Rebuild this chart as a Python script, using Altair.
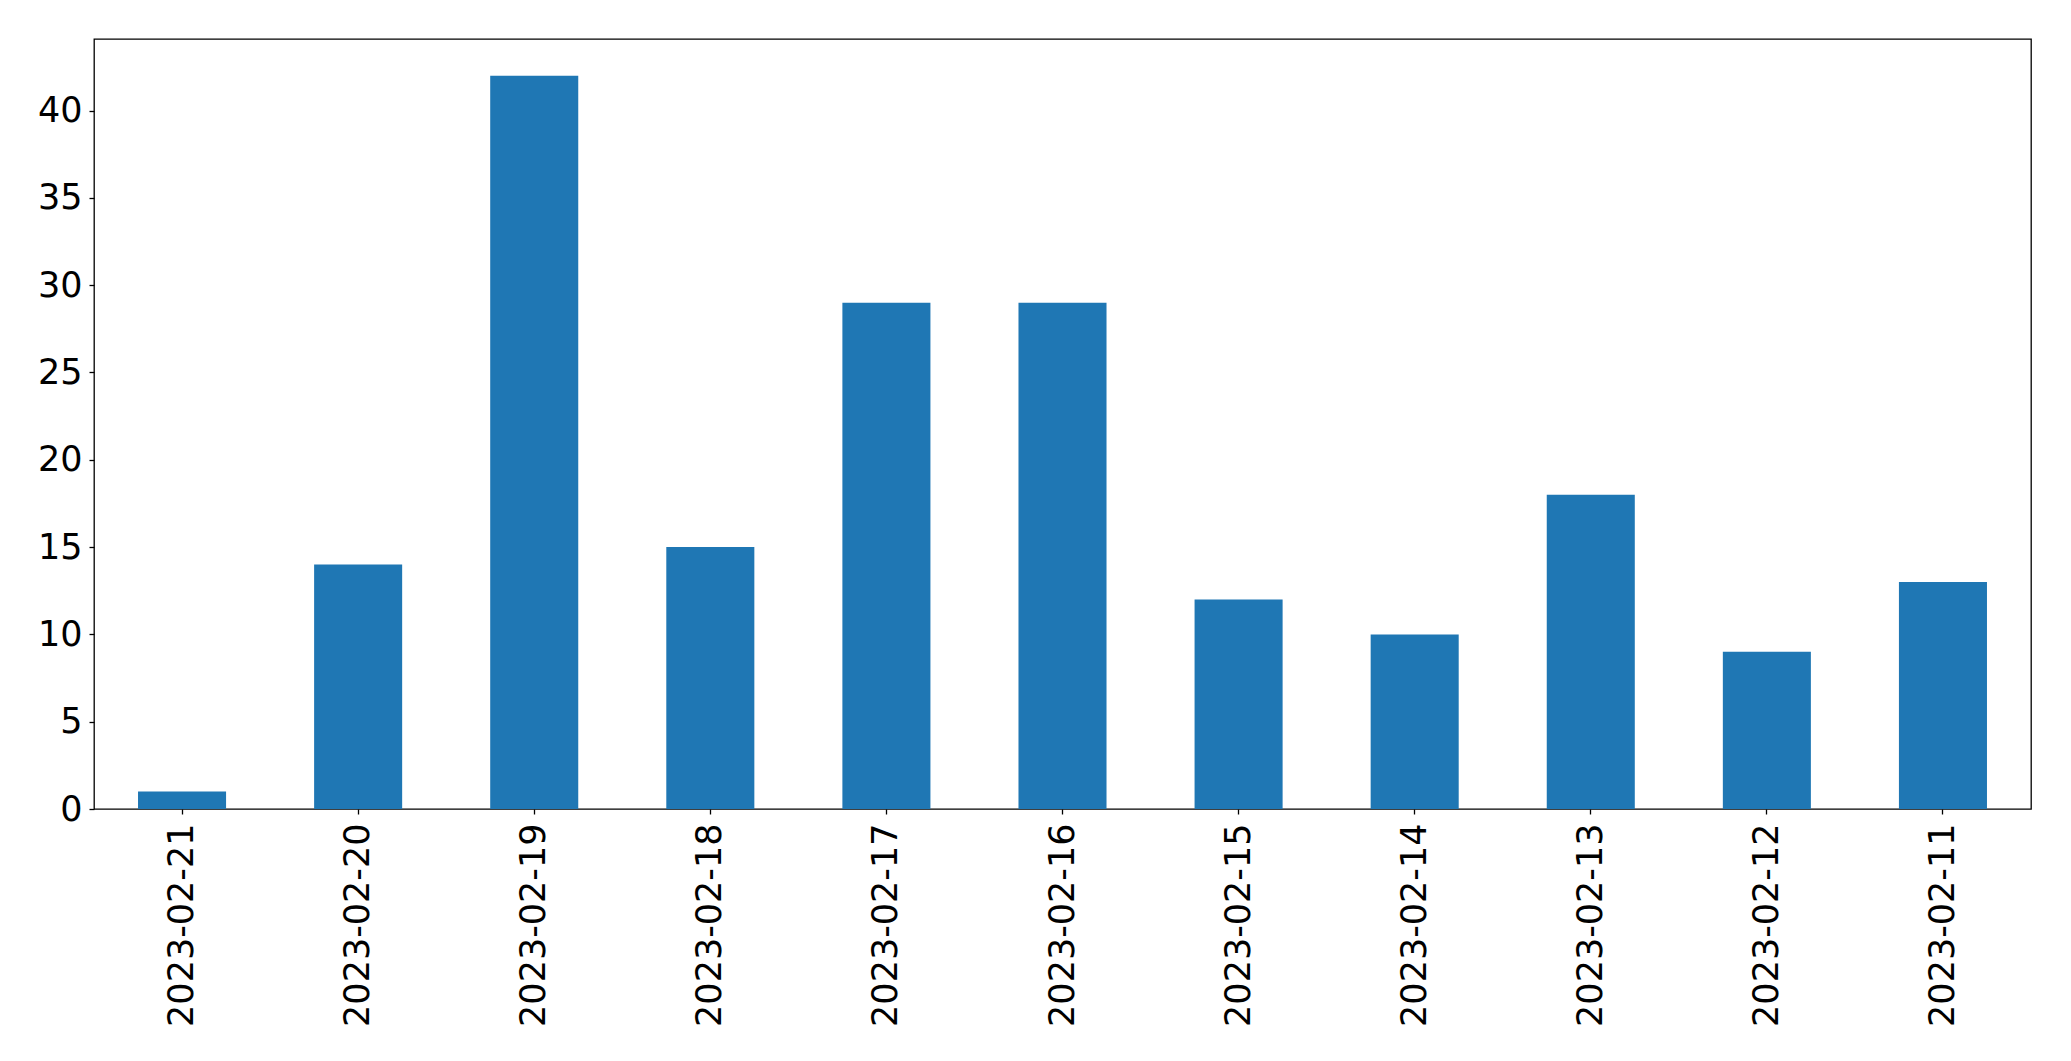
import altair as alt
import pandas as pd

dates = ["2023-02-21", "2023-02-20", "2023-02-19", "2023-02-18", "2023-02-17",
         "2023-02-16", "2023-02-15", "2023-02-14", "2023-02-13", "2023-02-12",
         "2023-02-11"]
counts = [1, 14, 42, 15, 29, 29, 12, 10, 18, 9, 13]

df = pd.DataFrame({"date": dates, "count": counts})

chart = alt.Chart(df).mark_bar(color="#1f77b4").encode(
    x=alt.X("date:N", sort=dates, title=None,
            scale=alt.Scale(paddingInner=0.5, paddingOuter=0.25),
            axis=alt.Axis(labelAngle=-90, labelAlign="right", labelBaseline="middle",
                          labelFontSize=35, labelFont="DejaVu Sans", labelColor="black",
                          labelLimit=0,
                          tickColor="black", tickSize=5, tickWidth=1.3,
                          labelPadding=9, domain=False, grid=False)),
    y=alt.Y("count:Q", title=None,
            scale=alt.Scale(domain=[0, 44.1], nice=False, zero=True),
            axis=alt.Axis(values=[0, 5, 10, 15, 20, 25, 30, 35, 40],
                          labelFontSize=35, labelFont="DejaVu Sans", labelColor="black",
                          tickColor="black", tickSize=5, tickWidth=1.3,
                          labelPadding=7, domain=False, grid=False)),
).properties(
    width=1937, height=770,
    autosize=alt.AutoSizeParams(type="none"),
    padding={"left": 86, "top": 31, "right": 20, "bottom": 222},
).configure_view(stroke="black", strokeWidth=1.3)

chart.save("out.html", embed_options={"renderer": "svg", "actions": False})
